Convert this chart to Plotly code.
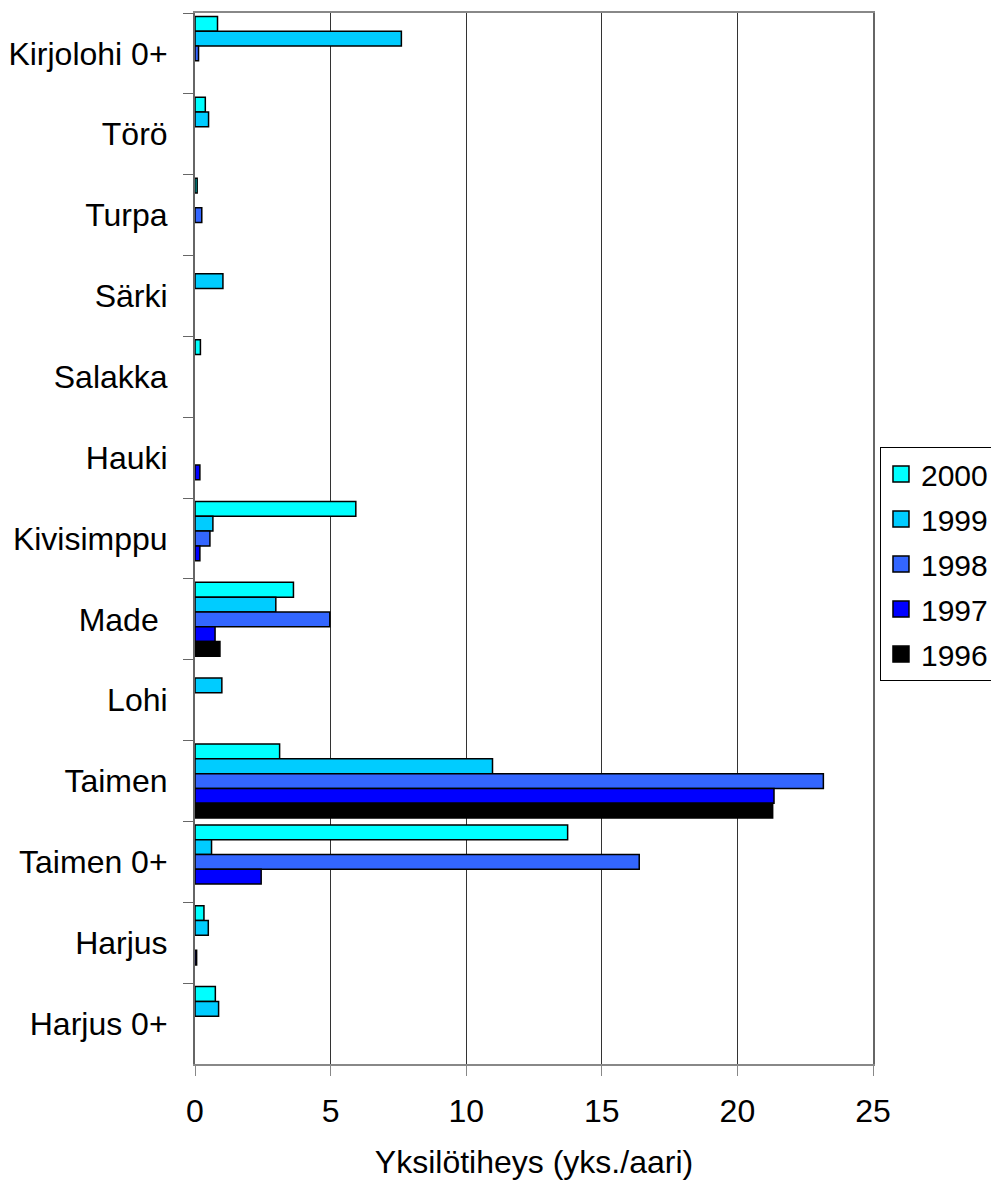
import plotly.graph_objects as go

categories = ["Kirjolohi 0+", "Törö", "Turpa", "Särki", "Salakka", "Hauki",
              "Kivisimppu", "Made\u00a0", "Lohi", "Taimen", "Taimen 0+", "Harjus", "Harjus 0+"]

years = ["2000", "1999", "1998", "1997", "1996"]

v2000 = [0.83, 0.38, 0.08, None, 0.20, None, 5.93, 3.63, None, 3.12, 13.74, 0.33, 0.75]
v1999 = [7.61, 0.50, None, 1.03, None, None, 0.66, 2.98, 0.99, 10.97, 0.61, 0.49, 0.87]
v1998 = [0.13, None, 0.25, None, None, None, 0.55, 4.97, None, 23.17, 16.38, None, None]
v1997 = [None, None, None, None, None, 0.18, 0.18, 0.74, None, 21.35, 2.44, 0.06, None]
v1996 = [None, None, None, None, None, None, None, 0.92, None, 21.30, None, None, None]

series = [v2000, v1999, v1998, v1997, v1996]
colors = ["#00FFFF", "#00CCFF", "#3366FF", "#0000FF", "#000000"]

x_ticks = [0, 5, 10, 15, 20, 25]

FONT = "Liberation Sans, Arial, Helvetica, sans-serif"

fig = go.Figure()
for name, vals, col in zip(years, series, colors):
    fig.add_trace(go.Bar(
        y=categories, x=vals, name=name, orientation="h",
        marker=dict(color=col, line=dict(color="black", width=1.5)),
        legendgroup=name, showlegend=False,
    ))
    # legend entry with a larger square swatch
    fig.add_trace(go.Scatter(
        x=[None], y=[None], mode="markers", name=name, legendgroup=name,
        marker=dict(symbol="square", size=20, color=col,
                    line=dict(color="black", width=1.5)),
        showlegend=True, hoverinfo="skip",
    ))

fig.update_layout(
    width=991, height=1180,
    margin=dict(l=195, r=118, t=13, b=116, autoexpand=False),
    paper_bgcolor="white", plot_bgcolor="white",
    barmode="group", bargap=0.085, bargroupgap=0,
    font=dict(family=FONT, size=32, color="black"),
    legend=dict(
        x=1.0103, y=0.587, xanchor="left", yanchor="top",
        bordercolor="black", borderwidth=1, bgcolor="white",
        font=dict(size=30), traceorder="grouped", tracegroupgap=3,
        itemsizing="trace",
    ),
    showlegend=True,
)

fig.update_xaxes(
    range=[0, 25], tickvals=x_ticks, ticktext=[str(t) for t in x_ticks],
    showgrid=True, gridcolor="#333333", gridwidth=1,
    zeroline=False, automargin=False,
    showline=True, linecolor="#888888", linewidth=2, mirror=True,
    ticks="outside", ticklen=10, tickcolor="#888888", tickwidth=1,
    tickfont=dict(size=32),
    ticklabelstandoff=8,
    title=dict(text="Yksilötiheys (yks./aari)", font=dict(size=32), standoff=24),
)

fig.update_yaxes(
    categoryorder="array", categoryarray=categories, autorange="reversed",
    showgrid=False, zeroline=False, automargin=False,
    showline=True, linecolor="#666666", linewidth=2, mirror=True,
    ticks="outside", ticklen=10, tickcolor="#666666", tickwidth=1,
    tickson="boundaries",
    tickfont=dict(size=32),
    ticklabelstandoff=19,
)

fig.write_html(
    "out.html",
    config={"displayModeBar": False},
    post_script="document.body.style.margin='0';document.body.style.overflow='hidden';",
)
